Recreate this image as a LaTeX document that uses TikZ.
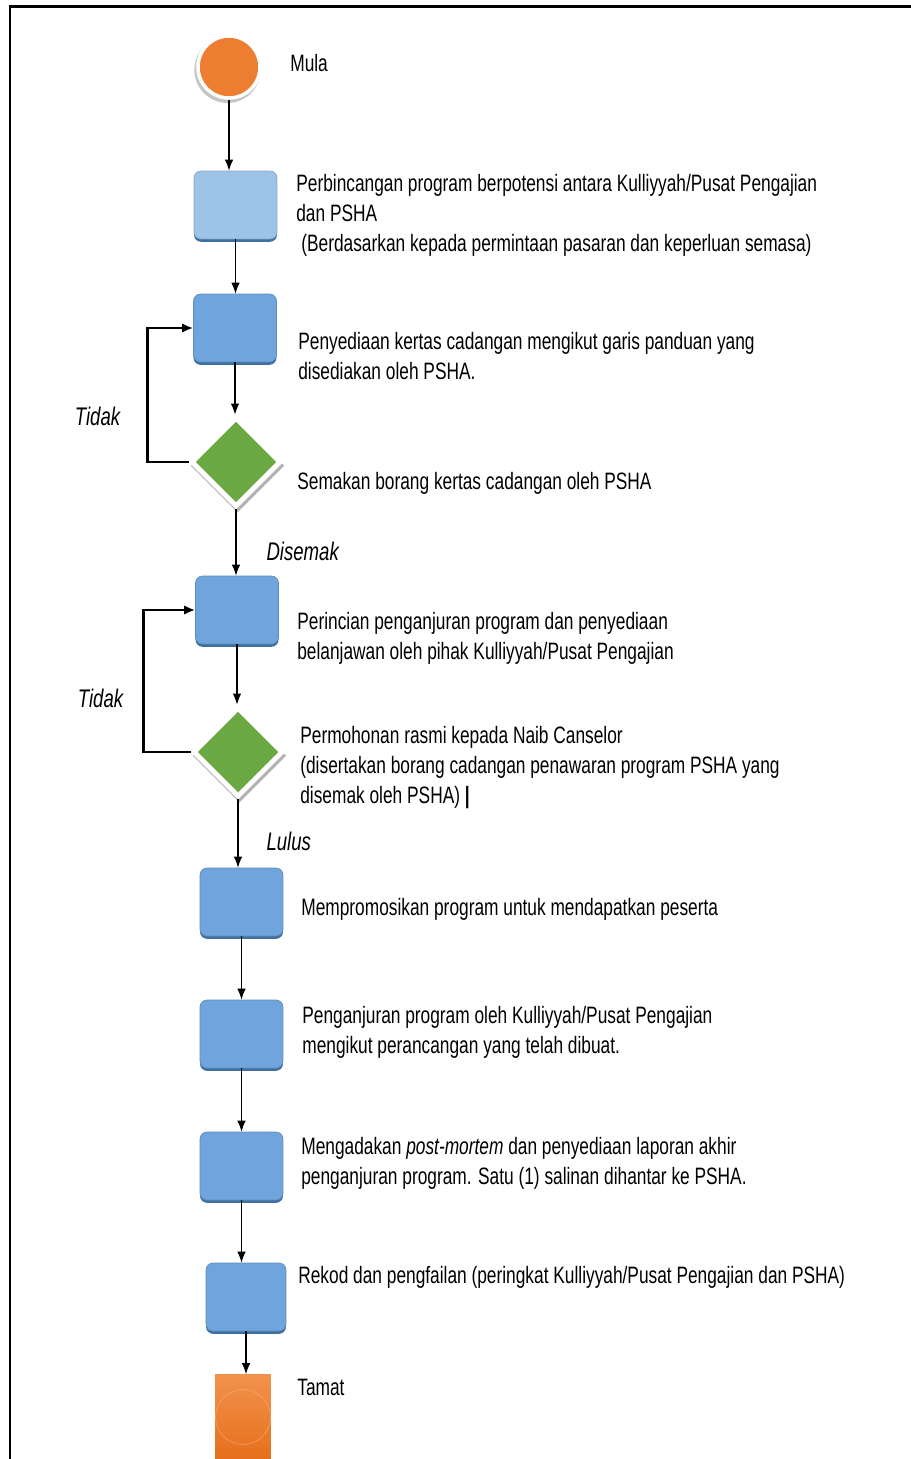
\documentclass[tikz,border=0pt]{standalone}
\usepackage{fontspec}
\setmainfont{Liberation Sans}[FakeStretch=0.73]
\usetikzlibrary{shapes.geometric, arrows.meta, positioning, shadows}
\definecolor{clrStart}{HTML}{ED7D31}
\definecolor{clrEndTop}{HTML}{F2924C}
\definecolor{clrEndBot}{HTML}{E66F1C}
\definecolor{clrFirst}{HTML}{9DC3E6}
\definecolor{clrStep}{HTML}{6FA5DC}
\definecolor{clrEdge}{HTML}{3F6F9F}
\definecolor{clrCheck}{HTML}{6AA842}
\tikzset{
  start/.style = {circle, minimum size=1.24cm, inner sep=0pt, fill=clrStart, draw=white, line width=2pt,
                  drop shadow={shadow scale=1.07, shadow xshift=-0.8pt, shadow yshift=-1.5pt,
                               fill=gray!45, opacity=1}},
  stepbox/.style = {rectangle, rounded corners=4pt, minimum width=1.66cm, minimum height=1.36cm,
                    inner sep=0pt, fill=clrStep, draw=clrStep!85!black, line width=0.4pt,
                    drop shadow={shadow xshift=0pt, shadow yshift=-1.6pt, fill=clrEdge, opacity=1}},
  check/.style = {diamond, minimum size=1.8cm, inner sep=0pt, fill=clrCheck, draw=white, line width=2.8pt,
                  drop shadow={shadow scale=1.06, shadow xshift=0.8pt, shadow yshift=-2pt,
                               fill=gray!60, opacity=1}},
  finish/.style = {rectangle, minimum width=1.12cm, minimum height=1.7cm, inner sep=0pt,
                   top color=clrEndTop, bottom color=clrEndBot,
                   path picture={\draw[clrEndTop!70!white, opacity=0.6]
                     (path picture bounding box.center) circle (0.55cm);}},
  desc/.style = {anchor=north west, inner sep=0pt, align=left, font=\fontsize{13.5}{17}\selectfont},
  answer/.style = {inner sep=0pt, font=\fontsize{14.5}{17}\selectfont\itshape},
  flow/.style = {-{Latex[length=2.2mm, width=1.7mm]}, line width=0.6pt},
  back/.style = {-{Latex[length=2.2mm, width=1.9mm]}, line width=1.6pt},
}

\begin{document}
\begin{tikzpicture}[x=0.02cm, y=-0.02cm]
  \useasboundingbox (0,0) rectangle (911,1459);
  \clip (0,0) rectangle (911,1459);

  % --- Frame ---
  \draw[line width=1.7pt] (10,1459) -- (10,7) -- (911,7);

  % --- Shapes ---
  \node[start]   at (229, 67)     (M0) {};
  \node[stepbox, fill=clrFirst, draw=clrFirst!85!black] at (235.5, 205) (S1) {};
  \node[stepbox] at (235, 328)    (S2) {};
  \node[check]   at (236, 462)    (Q1) {};
  \node[stepbox] at (237, 610)    (S3) {};
  \node[check]   at (238, 752)    (Q2) {};
  \node[stepbox] at (241.5, 902)  (S4) {};
  \node[stepbox] at (241.5, 1034) (S5) {};
  \node[stepbox] at (241.5, 1166) (S6) {};
  \node[stepbox, minimum width=1.6cm] at (246, 1297) (S7) {};
  \node[finish]  at (243, 1417)   (E)  {};

  % --- Texts ---
  \node[desc] at (290, 54)   (T0) {Mula};
  \node[desc] at (296, 174)  (T1) {Perbincangan program berpotensi antara Kulliyyah/Pusat Pengajian\\
    dan PSHA\\
    \hspace*{0.1cm}(Berdasarkan kepada permintaan pasaran dan keperluan semasa)};
  \node[desc] at (298, 332)  (T2) {Penyediaan kertas cadangan mengikut garis panduan yang\\
    disediakan oleh PSHA.};
  \node[desc] at (297, 472)  (T3) {Semakan borang kertas cadangan oleh PSHA};
  \node[desc] at (297, 612)  (T4) {Perincian penganjuran program dan penyediaan\\
    belanjawan oleh pihak Kulliyyah/Pusat Pengajian};
  \node[desc] at (300, 726)  (T5) {Permohonan rasmi kepada Naib Canselor\\
    (disertakan borang cadangan penawaran program PSHA yang\\
    disemak oleh PSHA)\ \textbf{|}};
  \node[desc] at (301, 898)  (T6) {Mempromosikan program untuk mendapatkan peserta};
  \node[desc] at (302, 1006) (T7) {Penganjuran program oleh Kulliyyah/Pusat Pengajian\\
    mengikut perancangan yang telah dibuat.};
  \node[desc] at (301, 1137) (T8) {Mengadakan \textit{post-mortem} dan penyediaan laporan akhir\\
    penganjuran program. Satu (1) salinan dihantar ke PSHA.};
  \node[desc] at (298, 1266) (T9) {Rekod dan pengfailan (peringkat Kulliyyah/Pusat Pengajian dan PSHA)};
  \node[desc] at (297, 1379) (T10) {Tamat};

  % --- Main flow ---
  \draw[flow] (M0.south) -- (M0.south |- S1.north);
  \draw[flow] (S1.south) -- (S1.south |- S2.north);
  \draw[flow] (S2.south) -- (S2.south |- Q1.north);
  \draw[flow] (Q1.south) -- node[answer, right=0.6cm, pos=0.64] (L1) {Disemak} (Q1.south |- S3.north);
  \draw[flow] (S3.south) -- (S3.south |- Q2.north);
  \draw[flow] (Q2.south) -- node[answer, right=0.56cm, pos=0.62] (L2) {Lulus} (Q2.south |- S4.north);
  \draw[flow] (S4.south) -- (S4.south |- S5.north);
  \draw[flow] (S5.south) -- (S5.south |- S6.north);
  \draw[flow] (S6.south) -- (S6.south |- S7.north);
  \draw[flow] (S7.south) -- (S7.south |- E.north);

  % --- Loops back ---
  \draw[back] (Q1.west) -- ++(-41,0) |- node[answer, left=0.52cm, pos=0.17] (L3) {Tidak} (S2.west);
  \draw[back] (Q2.west) -- ++(-47,0) |- node[answer, left=0.38cm, pos=0.19] (L4) {Tidak} (S3.west);
\end{tikzpicture}
\end{document}
